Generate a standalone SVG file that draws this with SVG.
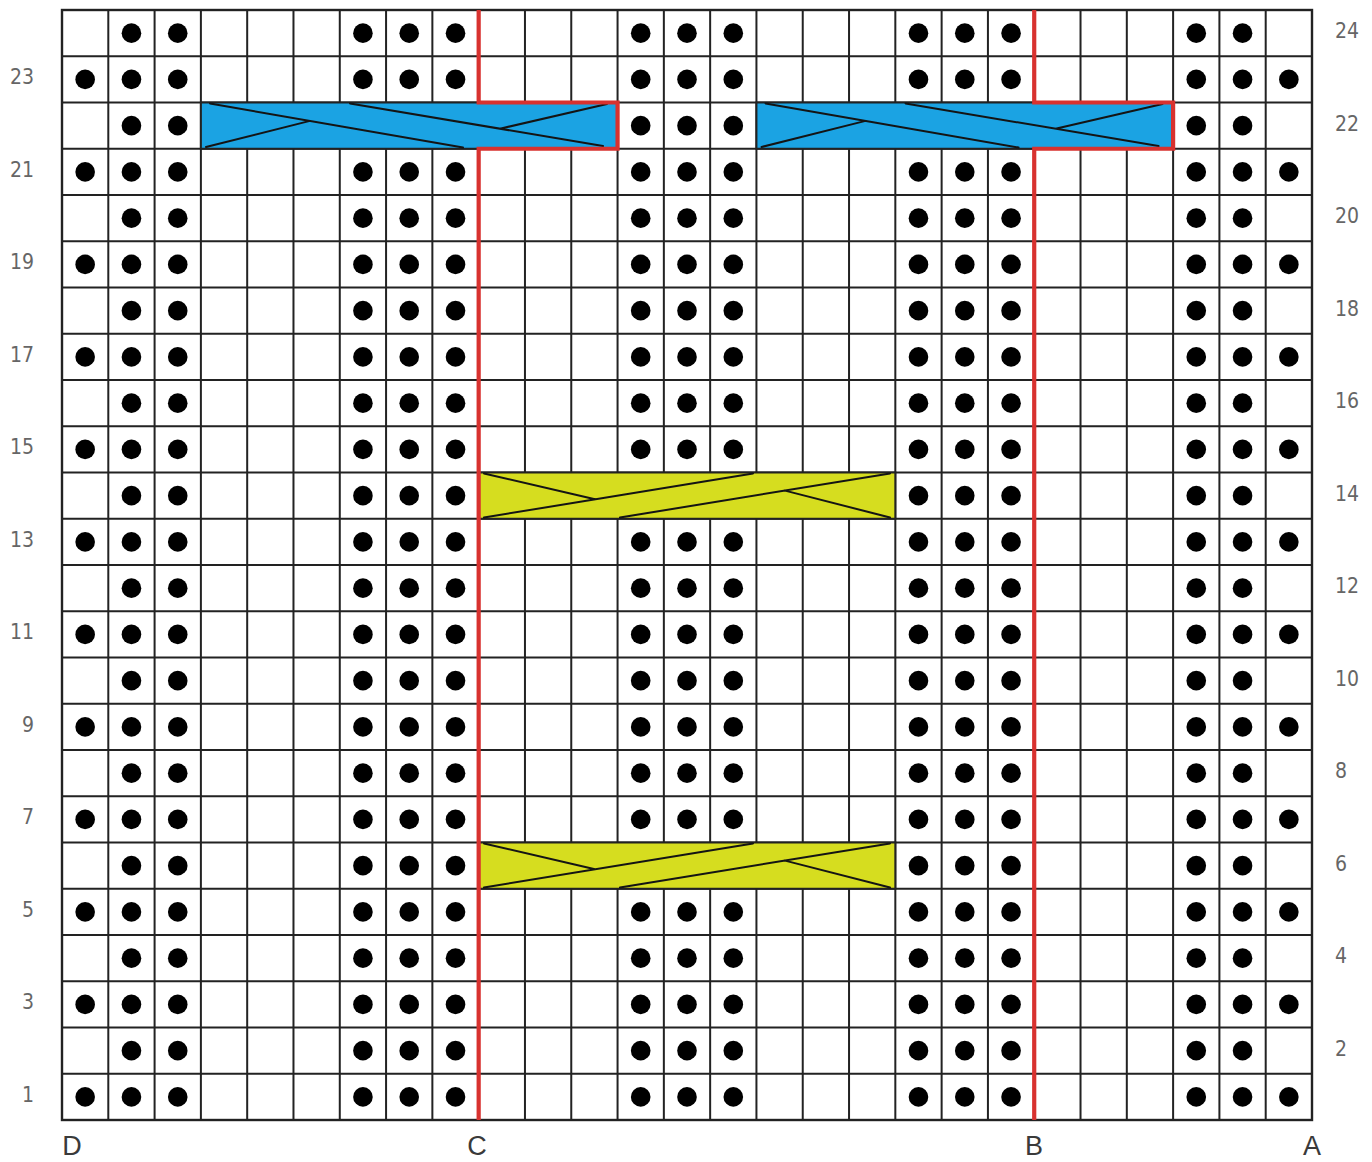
<svg xmlns="http://www.w3.org/2000/svg" width="1372" height="1162" viewBox="0 0 1372 1162">
<style>
.grid{fill:none;stroke:#222;stroke-width:2}
.border{fill:none;stroke:#222;stroke-width:2.4}
.dot{fill:#000}
.blue{fill:#1ba3e3;stroke:#222;stroke-width:2}
.yellow{fill:#d6dd1f;stroke:#222;stroke-width:2}
.strand{fill:none;stroke:#141414;stroke-width:2;stroke-linecap:round}
.red{fill:none;stroke:#d8322f;stroke-width:4.2;stroke-linejoin:miter}
.num{font-family:"Liberation Sans Narrow","DejaVu Sans Condensed","Liberation Sans",sans-serif;font-size:21px;fill:#666}
.numL{text-anchor:end}
.numR{text-anchor:start}
.let{font-family:"Liberation Sans",sans-serif;font-size:27px;fill:#3a3a3a;text-anchor:middle}
</style>
<defs>
<g id="oddRow">
<circle class="dot" cx="85.15" cy="0" r="9.8"/><circle class="dot" cx="131.45" cy="0" r="9.8"/><circle class="dot" cx="177.74" cy="0" r="9.8"/>
<circle class="dot" cx="362.93" cy="0" r="9.8"/><circle class="dot" cx="409.22" cy="0" r="9.8"/><circle class="dot" cx="455.52" cy="0" r="9.8"/>
<circle class="dot" cx="640.70" cy="0" r="9.8"/><circle class="dot" cx="687.00" cy="0" r="9.8"/><circle class="dot" cx="733.30" cy="0" r="9.8"/>
<circle class="dot" cx="918.48" cy="0" r="9.8"/><circle class="dot" cx="964.78" cy="0" r="9.8"/><circle class="dot" cx="1011.07" cy="0" r="9.8"/>
<circle class="dot" cx="1196.26" cy="0" r="9.8"/><circle class="dot" cx="1242.55" cy="0" r="9.8"/><circle class="dot" cx="1288.85" cy="0" r="9.8"/>
</g>
<g id="evenRow">
<circle class="dot" cx="131.45" cy="0" r="9.8"/><circle class="dot" cx="177.74" cy="0" r="9.8"/>
<circle class="dot" cx="362.93" cy="0" r="9.8"/><circle class="dot" cx="409.22" cy="0" r="9.8"/><circle class="dot" cx="455.52" cy="0" r="9.8"/>
<circle class="dot" cx="640.70" cy="0" r="9.8"/><circle class="dot" cx="687.00" cy="0" r="9.8"/><circle class="dot" cx="733.30" cy="0" r="9.8"/>
<circle class="dot" cx="918.48" cy="0" r="9.8"/><circle class="dot" cx="964.78" cy="0" r="9.8"/><circle class="dot" cx="1011.07" cy="0" r="9.8"/>
<circle class="dot" cx="1196.26" cy="0" r="9.8"/><circle class="dot" cx="1242.55" cy="0" r="9.8"/>
</g>
<g id="yellowRow">
<circle class="dot" cx="131.45" cy="0" r="9.8"/><circle class="dot" cx="177.74" cy="0" r="9.8"/>
<circle class="dot" cx="362.93" cy="0" r="9.8"/><circle class="dot" cx="409.22" cy="0" r="9.8"/><circle class="dot" cx="455.52" cy="0" r="9.8"/>
<circle class="dot" cx="918.48" cy="0" r="9.8"/><circle class="dot" cx="964.78" cy="0" r="9.8"/><circle class="dot" cx="1011.07" cy="0" r="9.8"/>
<circle class="dot" cx="1196.26" cy="0" r="9.8"/><circle class="dot" cx="1242.55" cy="0" r="9.8"/>
</g>
<g id="blueCable">
<rect class="blue" x="200.89" y="102.5" width="416.67" height="46.25"/>
<path class="strand" d="M210 103.5 L463 147.5 M206 147 L310 120.9 M350 103.5 L603 146 M607 104 L500 128.7"/>
</g>
<g id="yellowCable">
<rect class="yellow" x="478.67" y="472.5" width="416.66" height="46.25"/>
<path class="strand" d="M484 473.5 L595 499.3 M484 517.5 L753 473.5 M620 517.5 L890 473.5 M890 517.5 L785 490.6"/>
</g>
</defs>
<rect x="0" y="0" width="1372" height="1162" fill="#fff"/>
<g id="grid">
<path class="grid" d="M108.30 10V1120M154.59 10V1120M200.89 10V1120M247.19 10V1120M293.48 10V1120M339.78 10V1120M386.07 10V1120M432.37 10V1120M478.67 10V1120M524.96 10V1120M571.26 10V1120M617.56 10V1120M663.85 10V1120M710.15 10V1120M756.44 10V1120M802.74 10V1120M849.04 10V1120M895.33 10V1120M941.63 10V1120M987.93 10V1120M1034.22 10V1120M1080.52 10V1120M1126.81 10V1120M1173.11 10V1120M1219.41 10V1120M1265.70 10V1120
M62 56.25H1312M62 102.5H1312M62 148.75H1312M62 195H1312M62 241.25H1312M62 287.5H1312M62 333.75H1312M62 380H1312M62 426.25H1312M62 472.5H1312M62 518.75H1312M62 565H1312M62 611.25H1312M62 657.5H1312M62 703.75H1312M62 750H1312M62 796.25H1312M62 842.5H1312M62 888.75H1312M62 935H1312M62 981.25H1312M62 1027.5H1312M62 1073.75H1312"/>
<rect class="border" x="62" y="10" width="1250" height="1110"/>
</g>
<g id="dots">
<use href="#evenRow" y="33.125"/>
<use href="#oddRow" y="79.375"/>
<g id="row22dots">
<circle class="dot" cx="131.45" cy="125.625" r="9.8"/><circle class="dot" cx="177.74" cy="125.625" r="9.8"/>
<circle class="dot" cx="640.70" cy="125.625" r="9.8"/><circle class="dot" cx="687.00" cy="125.625" r="9.8"/><circle class="dot" cx="733.30" cy="125.625" r="9.8"/>
<circle class="dot" cx="1196.26" cy="125.625" r="9.8"/><circle class="dot" cx="1242.55" cy="125.625" r="9.8"/>
</g>
<use href="#oddRow" y="171.875"/>
<use href="#evenRow" y="218.125"/>
<use href="#oddRow" y="264.375"/>
<use href="#evenRow" y="310.625"/>
<use href="#oddRow" y="356.875"/>
<use href="#evenRow" y="403.125"/>
<use href="#oddRow" y="449.375"/>
<use href="#yellowRow" y="495.625"/>
<use href="#oddRow" y="541.875"/>
<use href="#evenRow" y="588.125"/>
<use href="#oddRow" y="634.375"/>
<use href="#evenRow" y="680.625"/>
<use href="#oddRow" y="726.875"/>
<use href="#evenRow" y="773.125"/>
<use href="#oddRow" y="819.375"/>
<use href="#yellowRow" y="865.625"/>
<use href="#oddRow" y="911.875"/>
<use href="#evenRow" y="958.125"/>
<use href="#oddRow" y="1004.375"/>
<use href="#evenRow" y="1050.625"/>
<use href="#oddRow" y="1096.875"/>
</g>
<g id="cables">
<use id="cableBlue1" href="#blueCable"/>
<use id="cableBlue2" href="#blueCable" x="555.55"/>
<use id="cableYellow1" href="#yellowCable"/>
<use id="cableYellow2" href="#yellowCable" y="370"/>
</g>
<g id="connectors">
<path id="lineC" class="red" d="M478.67 10V102.5H617.56V148.75H478.67V1120"/>
<path id="lineB" class="red" d="M1034.22 10V102.5H1173.11V148.75H1034.22V1120"/>
</g>
<g id="rowLabels">
<text class="num numL" x="34" y="84.4">23</text>
<text class="num numL" x="34" y="176.9">21</text>
<text class="num numL" x="34" y="269.4">19</text>
<text class="num numL" x="34" y="361.9">17</text>
<text class="num numL" x="34" y="454.4">15</text>
<text class="num numL" x="34" y="546.9">13</text>
<text class="num numL" x="34" y="639.4">11</text>
<text class="num numL" x="34" y="731.9">9</text>
<text class="num numL" x="34" y="824.4">7</text>
<text class="num numL" x="34" y="916.9">5</text>
<text class="num numL" x="34" y="1009.4">3</text>
<text class="num numL" x="34" y="1101.9">1</text>
<text class="num numR" x="1335" y="38.1">24</text>
<text class="num numR" x="1335" y="130.6">22</text>
<text class="num numR" x="1335" y="223.1">20</text>
<text class="num numR" x="1335" y="315.6">18</text>
<text class="num numR" x="1335" y="408.1">16</text>
<text class="num numR" x="1335" y="500.6">14</text>
<text class="num numR" x="1335" y="593.1">12</text>
<text class="num numR" x="1335" y="685.6">10</text>
<text class="num numR" x="1335" y="778.1">8</text>
<text class="num numR" x="1335" y="870.6">6</text>
<text class="num numR" x="1335" y="963.1">4</text>
<text class="num numR" x="1335" y="1055.6">2</text>
</g>
<g id="colLabels">
<text class="let" x="72" y="1155">D</text>
<text class="let" x="477" y="1155">C</text>
<text class="let" x="1034" y="1155">B</text>
<text class="let" x="1312" y="1155">A</text>
</g>
</svg>
